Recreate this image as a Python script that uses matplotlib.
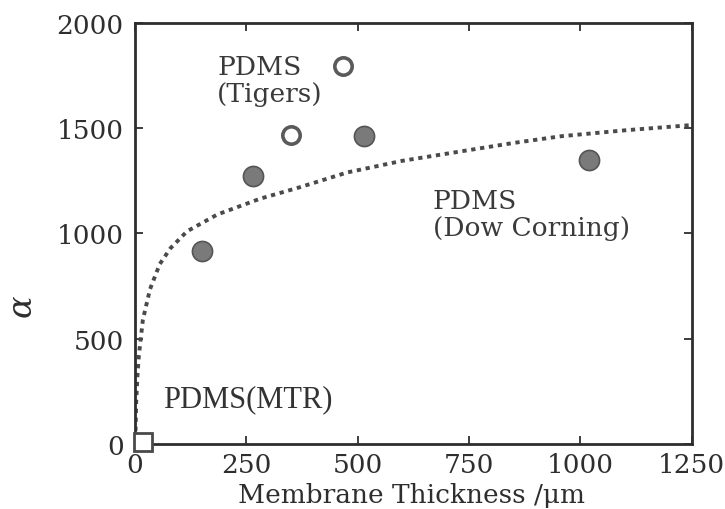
import matplotlib.pyplot as plt

# filled circles (PDMS, this work)
filled_x = [150, 266, 515, 1020]
filled_y = [917, 1273, 1463, 1348]

# open circles (PDMS, Tigers)
tigers_x = [351, 468]
tigers_y = [1470, 1797]

# open square (PDMS, MTR)
mtr_x = [18]
mtr_y = [8]

# dotted curve
curve_x = [1, 3, 6, 9, 18, 34, 56, 80, 117, 185, 281, 371, 477, 600, 732, 850, 957, 1100, 1250]
curve_y = [20, 200, 330, 420, 590, 735, 855, 930, 1010, 1090, 1165, 1220, 1290, 1345, 1390, 1430, 1462, 1490, 1515]

ink = '#2e2e2e'
serif = 'DejaVu Serif'

fig = plt.figure(figsize=(7.25, 5.1), dpi=100)
ax = fig.add_axes([0.186, 0.1275, 0.768, 0.8255])

ax.plot(curve_x, curve_y, color='#4a4a4a', lw=2.8, linestyle=(0, (1.1, 1.2)))
ax.plot(filled_x, filled_y, 'o', ms=14.5, color='#7a7a7a', mec='#555555', mew=1.2)
ax.plot(tigers_x, tigers_y, 'o', ms=12.5, mfc='white', mec='#5a5a5a', mew=2.6)
ax.plot(mtr_x, mtr_y, 's', ms=12.5, mfc='white', mec='#4a4a4a', mew=2.0, clip_on=False, zorder=5)

ax.text(185, 1728, 'PDMS\n(Tigers)', fontsize=19, family=serif,
        color='#3a3a3a', ha='left', va='center', linespacing=1.1)
ax.text(669, 1093, 'PDMS\n(Dow Corning)', fontsize=19, family=serif,
        color='#3a3a3a', ha='left', va='center', linespacing=1.1)
ax.text(63, 214, 'PDMS(MTR)', fontsize=22, family='Liberation Serif',
        color='#333333', ha='left', va='center')

ax.set_xlim(0, 1250)
ax.set_ylim(0, 2000)
ax.set_xticks([0, 250, 500, 750, 1000, 1250])
ax.set_yticks([0, 500, 1000, 1500, 2000])
ax.tick_params(direction='in', length=6, width=1.3, color=ink, top=True, right=True,
               labelsize=19, labelcolor=ink)
ax.tick_params(axis='x', pad=6)
ax.tick_params(axis='y', pad=8)
for lab in ax.get_xticklabels() + ax.get_yticklabels():
    lab.set_family(serif)
for s in ax.spines.values():
    s.set_linewidth(2.0)
    s.set_color(ink)

fig.text(0.567, 1 - 496 / 510, 'Membrane Thickness /\u03bcm', fontsize=19, family=serif,
         color=ink, ha='center', va='center')
fig.text(22 / 725, 1 - 306 / 510, '\u03b1', fontsize=24, family=serif, style='italic',
         color=ink, ha='center', va='center', rotation=90)

fig.savefig('out.png', dpi=100)
